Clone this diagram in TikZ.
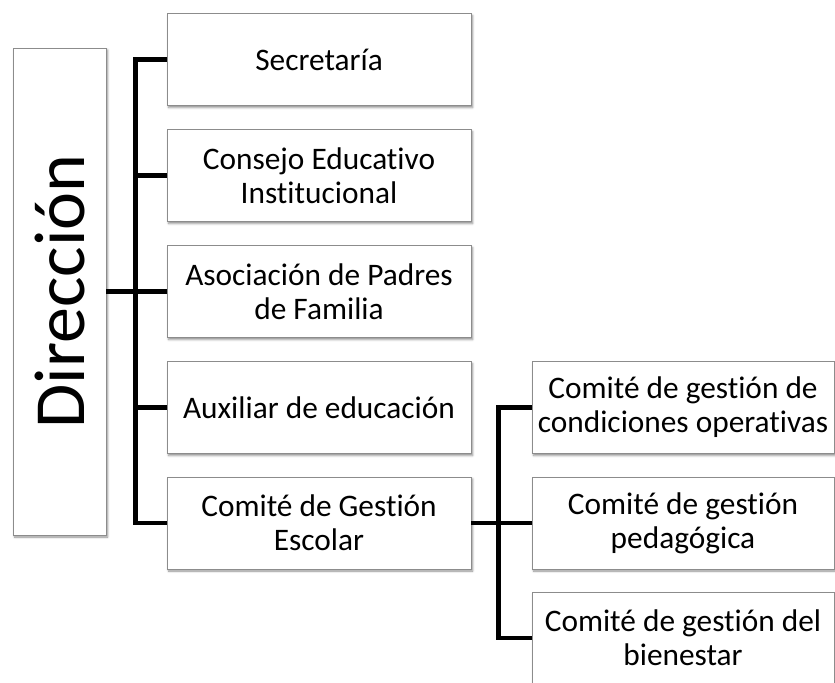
\documentclass[tikz,border=0pt]{standalone}
\usepackage{fontspec}
\usepackage{graphicx}
\setmainfont{Carlito}[Ligatures=CommonOff]
\usetikzlibrary{shadows.blur}

\tikzset{
  caja/.style={draw=black!45, line width=0.6pt, fill=white, align=center,
    minimum width=228pt, minimum height=69pt, inner sep=0pt,
    font=\fontsize{23.5}{25.5}\selectfont,
    blur shadow={shadow xshift=1.2pt, shadow yshift=-1.5pt, shadow blur radius=1.6pt, shadow opacity=45}},
  caja2/.style={caja, minimum width=226.5pt},
  jefe/.style={caja, minimum width=69.75pt, minimum height=365.25pt},
  linea/.style={line width=3.4pt}
}

\begin{document}
\begin{tikzpicture}[x=0.75pt,y=-0.75pt]
\clip (0,0) rectangle (835,682);
\node[jefe] (dir) at (59.5,291.5) {\rotatebox{90}{\fontsize{54}{60}\selectfont Dirección}};
\node[caja] (sec) at (319,59.5) {Secretaría};
\node[caja] (cei) at (319,175.5) {Consejo Educativo\\Institucional};
\node[caja] (apf) at (319,291.5) {Asociación de Padres\\de Familia};
\node[caja] (aux) at (319,407.5) {Auxiliar de educación};
\node[caja] (cge) at (319,523) {Comité de Gestión\\Escolar};
\node[caja2] (cop) at (683,407.5) {Comité de gestión de\\condiciones operativas};
\node[caja2] (cpe) at (683,523) {Comité de gestión\\pedagógica};
\node[caja2] (cbi) at (683,638) {Comité de gestión del\\bienestar};

\draw[linea] (sec.west) -- ++(-31,0) |- (cge.west);
\draw[linea] (cei.west) -- ++(-31,0);
\draw[linea] (apf.west) -- ++(-31,0);
\draw[linea] (aux.west) -- ++(-31,0);
\draw[linea] (dir.east) -- ++(30,0);
\draw[linea] (cop.west) -- ++(-33,0) |- (cbi.west);
\draw[linea] (cge.east) -- (cpe.west);
\end{tikzpicture}
\end{document}
